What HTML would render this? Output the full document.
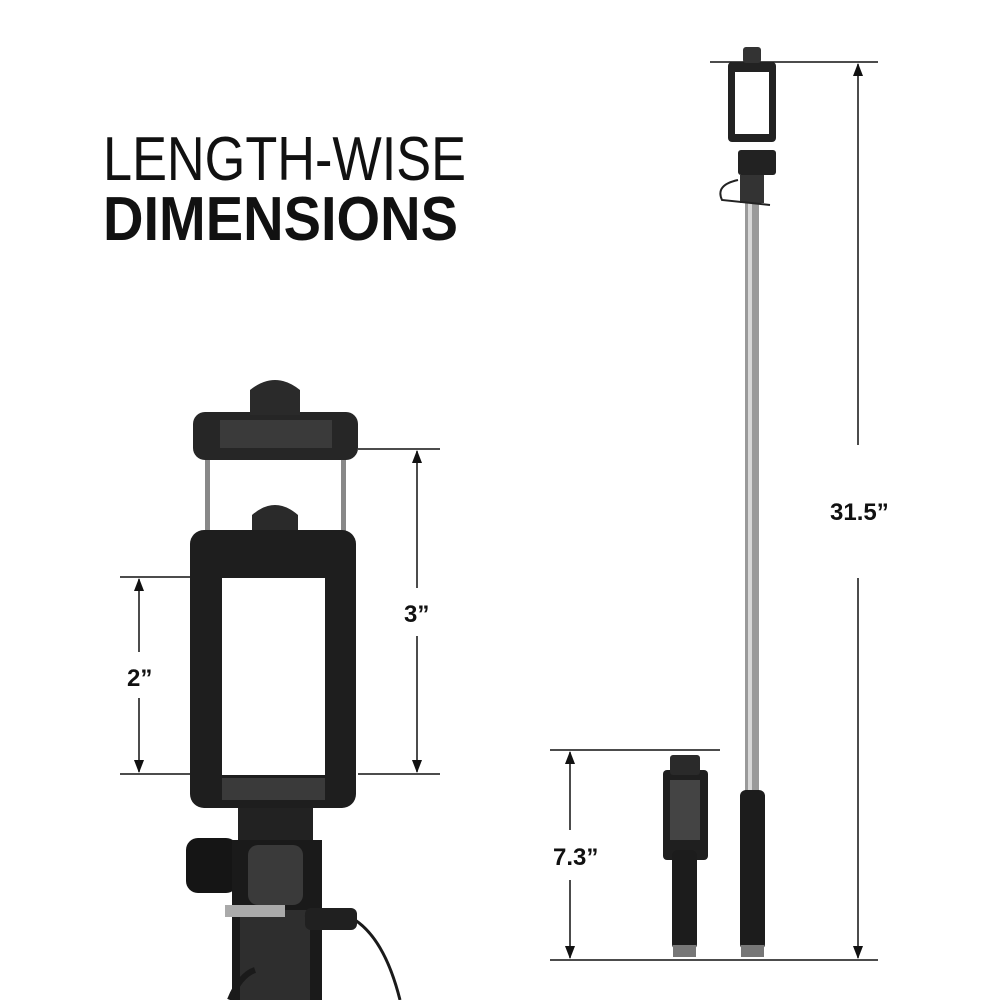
<!DOCTYPE html>
<html><head><meta charset="utf-8"><style>
html,body{margin:0;padding:0;background:#fff}
svg{display:block}
</style></head><body>
<svg width="1000" height="1000" viewBox="0 0 1000 1000" xmlns="http://www.w3.org/2000/svg">
<text x="103" y="180" font-family="Liberation Sans, sans-serif" font-size="62" font-weight="300" fill="#111" textLength="363" lengthAdjust="spacingAndGlyphs">LENGTH-WISE</text>
<text x="103" y="240" font-family="Liberation Sans, sans-serif" font-size="62" font-weight="bold" fill="#111" textLength="355" lengthAdjust="spacingAndGlyphs">DIMENSIONS</text>

<g stroke="#111" stroke-width="1.5" fill="none">
<line x1="710" y1="62" x2="878" y2="62"/>
<line x1="550" y1="960" x2="878" y2="960"/>
<line x1="858" y1="64" x2="858" y2="445"/>
<line x1="858" y1="578" x2="858" y2="958"/>
<line x1="550" y1="750" x2="720" y2="750"/>
<line x1="570" y1="752" x2="570" y2="830"/>
<line x1="570" y1="880" x2="570" y2="958"/>
<line x1="358" y1="449" x2="440" y2="449"/>
<line x1="358" y1="774" x2="440" y2="774"/>
<line x1="417" y1="451" x2="417" y2="588"/>
<line x1="417" y1="636" x2="417" y2="772"/>
<line x1="120" y1="577" x2="190" y2="577"/>
<line x1="120" y1="774" x2="190" y2="774"/>
<line x1="139" y1="579" x2="139" y2="652"/>
<line x1="139" y1="698" x2="139" y2="772"/>
</g>
<g fill="#111">
<polygon points="858,63 853,76 863,76"/>
<polygon points="858,959 853,946 863,946"/>
<polygon points="570,751 565,764 575,764"/>
<polygon points="570,959 565,946 575,946"/>
<polygon points="417,450 412,463 422,463"/>
<polygon points="417,773 412,760 422,760"/>
<polygon points="139,578 134,591 144,591"/>
<polygon points="139,773 134,760 144,760"/>
</g>
<g font-family="Liberation Sans, sans-serif" font-size="24" font-weight="bold" fill="#111">
<text x="830" y="520">31.5”</text>
<text x="553" y="865">7.3”</text>
<text x="404" y="622">3”</text>
<text x="127" y="686">2”</text>
</g>

<!-- long stick -->
<rect x="745" y="200" width="14" height="600" fill="#9a9a9a"/>
<rect x="748" y="200" width="4" height="600" fill="#d8d8d8"/>
<rect x="740" y="790" width="25" height="160" rx="6" fill="#1c1c1c"/>
<rect x="741" y="945" width="23" height="12" fill="#777"/>
<rect x="728" y="62" width="48" height="80" rx="4" fill="#222"/>
<rect x="735" y="72" width="34" height="62" fill="#fff"/>
<rect x="743" y="47" width="18" height="16" rx="3" fill="#333"/>
<rect x="738" y="150" width="38" height="25" rx="3" fill="#222"/>
<rect x="740" y="175" width="24" height="28" fill="#333"/>
<path d="M738,180 Q715,185 722,200 L770,205" stroke="#222" stroke-width="2" fill="none"/>

<!-- short stick -->
<rect x="663" y="770" width="45" height="90" rx="4" fill="#1f1f1f"/>
<rect x="670" y="780" width="30" height="60" fill="#444"/>
<rect x="670" y="755" width="30" height="20" rx="3" fill="#2a2a2a"/>
<rect x="672" y="850" width="25" height="100" rx="6" fill="#1c1c1c"/>
<rect x="673" y="945" width="23" height="12" fill="#777"/>

<!-- big holder -->
<rect x="205" y="445" width="5" height="100" fill="#888"/>
<rect x="341" y="445" width="5" height="100" fill="#888"/>
<rect x="193" y="412" width="165" height="48" rx="12" fill="#262626"/>
<rect x="220" y="420" width="112" height="28" fill="#3a3a3a"/>
<path d="M250,415 L250,390 Q275,370 300,390 L300,415 Z" fill="#2a2a2a"/>
<path d="M252,540 L252,515 Q275,495 298,515 L298,540 Z" fill="#2a2a2a"/>
<rect x="190" y="530" width="166" height="278" rx="14" fill="#1e1e1e"/>
<rect x="222" y="578" width="103" height="197" fill="#fff"/>
<rect x="222" y="778" width="103" height="22" fill="#3a3a3a"/>
<rect x="238" y="808" width="75" height="60" fill="#222"/>
<rect x="186" y="838" width="52" height="55" rx="12" fill="#151515"/>
<rect x="232" y="840" width="90" height="160" fill="#1a1a1a"/>
<rect x="248" y="845" width="55" height="60" rx="10" fill="#3a3a3a"/>
<rect x="240" y="910" width="70" height="90" fill="#2e2e2e"/>
<rect x="225" y="905" width="60" height="12" fill="#aaa"/>
<path d="M305,915 L355,920 Q385,940 400,1000" stroke="#1a1a1a" stroke-width="3" fill="none"/>
<rect x="305" y="908" width="52" height="22" rx="6" fill="#202020"/>
<path d="M230,1000 Q240,975 255,970" stroke="#1a1a1a" stroke-width="6" fill="none"/>
</svg>
</body></html>
